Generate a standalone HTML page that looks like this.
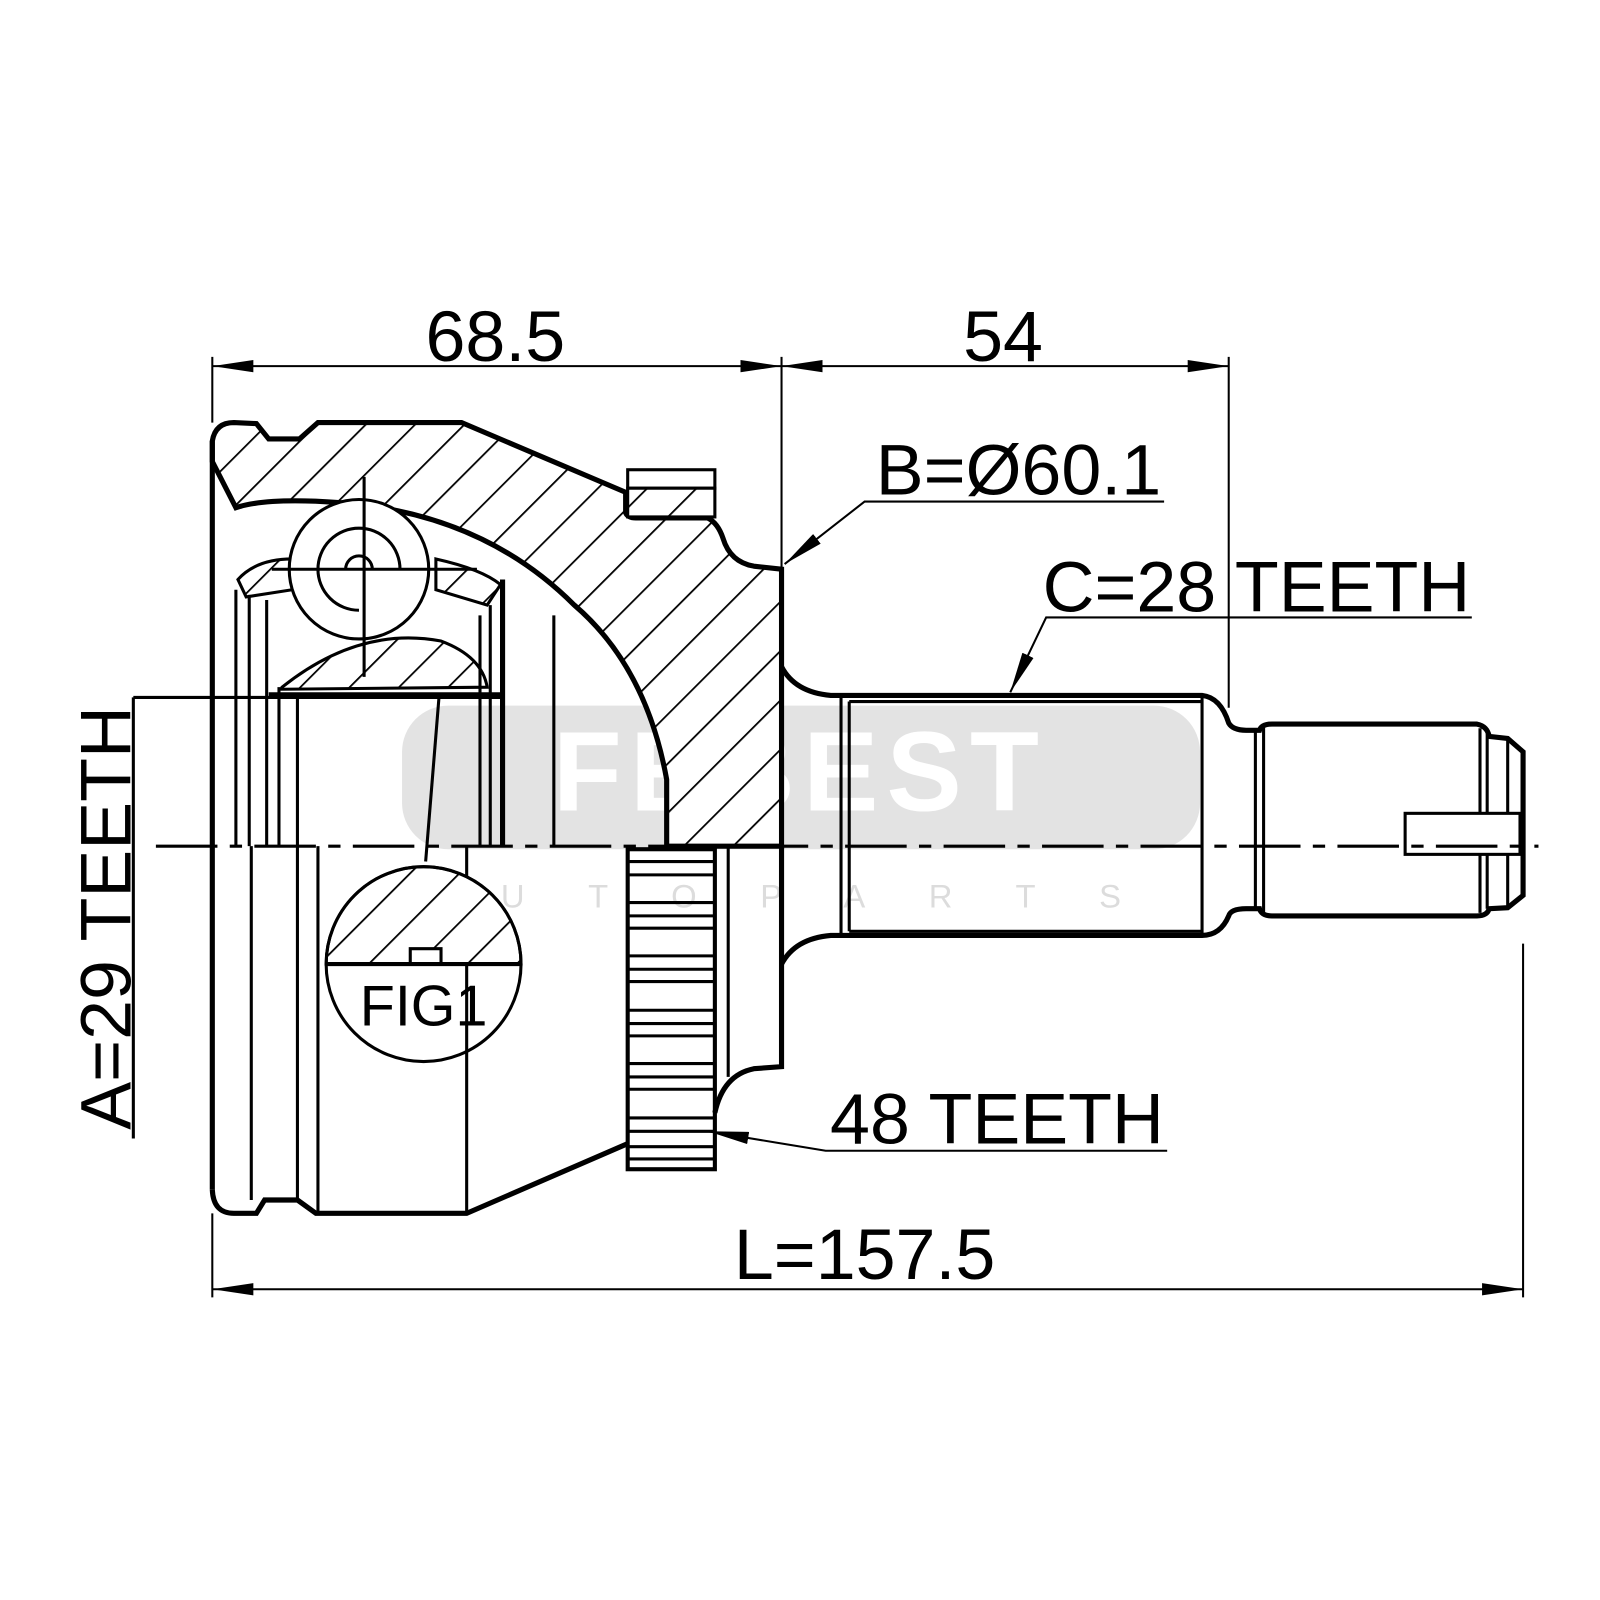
<!DOCTYPE html>
<html><head><meta charset="utf-8"><style>html,body{margin:0;padding:0;background:#fff}svg{display:block}</style></head><body>
<svg width="1600" height="1600" viewBox="0 0 1560 1560" xmlns="http://www.w3.org/2000/svg" font-family="Liberation Sans, sans-serif">
<defs>
<pattern id="h" patternUnits="userSpaceOnUse" width="34" height="34" patternTransform="rotate(45)">
<rect width="34" height="34" fill="#fff"/><line x1="0" y1="0" x2="0" y2="34" stroke="#000" stroke-width="3.5"/>
</pattern>
<marker id="ab" viewBox="0 0 40 12" markerWidth="40" markerHeight="12" refX="40" refY="6" orient="auto-start-reverse" markerUnits="userSpaceOnUse"><path d="M0,0 L40,6 L0,12 Z" fill="#000"/></marker>
</defs>
<rect width="1560" height="1560" fill="#fff"/>
<!-- watermark -->
<rect x="392" y="688" width="778" height="140" rx="45" fill="#e3e3e3"/>
<text x="780" y="790" font-size="110" font-weight="bold" fill="#fff" text-anchor="middle" letter-spacing="8">FEBEST</text>
<text x="780" y="885" font-size="32" fill="#dcdcdc" text-anchor="middle" letter-spacing="62">AUTOPARTS</text>

<g stroke="#000" fill="none" stroke-width="3">
<path d="M207,430 Q210,412 228,412 L250,413 L262,428 L292,428 L310,412 L450,412 L610,480 L610,500 Q612,505 620,505 L690,505 Q700,510 705,525 Q712,548 735,552 L762,555 L762,825 L650,825 L650,760 Q630,650 560,590 Q470,500 330,490 Q260,485 230,495 L207,450 Z" fill="url(#h)" stroke-width="5"/>
<rect x="612" y="458" width="85" height="18" fill="#fff"/>
<rect x="612" y="476" width="85" height="28" fill="url(#h)"/>
<path d="M275,670 Q350,610 430,625 Q470,640 475,670 L275,672 Z" fill="url(#h)"/>
<path d="M232,565 Q250,545 285,545 L285,575 L240,582 Z" fill="url(#h)"/>
<path d="M425,545 Q470,555 488,570 L475,590 L425,575 Z" fill="url(#h)"/>
<circle cx="350" cy="555" r="68" fill="#fff"/>
<path d="M310,555 A40,40 0 1 1 390,555"/>
<path d="M337,555 A13,13 0 1 1 363,555"/>
<path d="M310,555 A40,40 0 0 0 350,595"/>
<line x1="355" y1="465" x2="355" y2="660"/>
<line x1="265" y1="555" x2="465" y2="555"/>
<line x1="230" y1="575" x2="230" y2="825"/><line x1="243" y1="580" x2="243" y2="825"/>
<line x1="260" y1="585" x2="260" y2="825"/><line x1="272" y1="670" x2="272" y2="825"/>
<line x1="290" y1="680" x2="290" y2="825"/>
<line x1="468" y1="600" x2="468" y2="825"/><line x1="478" y1="590" x2="478" y2="825"/>
<line x1="490" y1="565" x2="490" y2="825" stroke-width="5"/>
<line x1="540" y1="600" x2="540" y2="825"/>
<line x1="262" y1="678" x2="490" y2="678" stroke-width="6"/>
<line x1="130" y1="680" x2="490" y2="680"/>
<line x1="130" y1="680" x2="130" y2="1110"/>
<line x1="428" y1="680" x2="415" y2="840"/>
<line x1="207" y1="430" x2="207" y2="1160" stroke-width="5"/>
<path d="M207,1160 Q208,1183 228,1183 L250,1183 L258,1170 L290,1170 L308,1183 L455,1183 L612,1115" stroke-width="5"/>
<line x1="245" y1="825" x2="245" y2="1170"/>
<line x1="290" y1="825" x2="290" y2="1170"/>
<line x1="310" y1="825" x2="310" y2="1183"/>
<line x1="455" y1="825" x2="455" y2="1183"/>
<rect x="612" y="828" width="85" height="312" stroke-width="4"/>
<g stroke-width="3">
<line x1="612" y1="840" x2="697" y2="840"/><line x1="612" y1="853" x2="697" y2="853"/><line x1="612" y1="880" x2="697" y2="880"/><line x1="612" y1="893" x2="697" y2="893"/><line x1="612" y1="905" x2="697" y2="905"/><line x1="612" y1="932" x2="697" y2="932"/><line x1="612" y1="945" x2="697" y2="945"/><line x1="612" y1="957" x2="697" y2="957"/><line x1="612" y1="985" x2="697" y2="985"/><line x1="612" y1="998" x2="697" y2="998"/><line x1="612" y1="1010" x2="697" y2="1010"/><line x1="612" y1="1037" x2="697" y2="1037"/><line x1="612" y1="1050" x2="697" y2="1050"/><line x1="612" y1="1062" x2="697" y2="1062"/><line x1="612" y1="1090" x2="697" y2="1090"/><line x1="612" y1="1103" x2="697" y2="1103"/><line x1="612" y1="1118" x2="697" y2="1118"/><line x1="612" y1="1130" x2="697" y2="1130"/>
</g>
<line x1="710" y1="825" x2="710" y2="1050"/>
<path d="M762,825 L762,1040 L735,1042 Q705,1048 697,1085" stroke-width="5"/>
<path d="M762,650 Q775,675 810,678 L1172,678 Q1190,680 1198,705 Q1202,712 1215,712 L1228,712 Q1230,706 1240,706 L1440,706 Q1450,708 1452,718 L1470,720 L1485,733 L1485,873 L1470,885 L1452,886 Q1450,893 1440,893 L1240,893 Q1230,893 1228,886 L1215,886 Q1200,886 1198,893 Q1190,912 1172,912 L810,912 Q775,915 762,940" stroke-width="5"/>
<line x1="820" y1="680" x2="820" y2="912"/><line x1="828" y1="684" x2="828" y2="908"/>
<line x1="828" y1="684" x2="1172" y2="684"/><line x1="828" y1="908" x2="1172" y2="908"/>
<line x1="1172" y1="680" x2="1172" y2="912"/>
<line x1="1224" y1="712" x2="1224" y2="886"/><line x1="1232" y1="708" x2="1232" y2="890"/>
<line x1="1443" y1="710" x2="1443" y2="890"/><line x1="1450" y1="715" x2="1450" y2="886"/><line x1="1470" y1="720" x2="1470" y2="885"/>
<rect x="1370" y="793" width="112" height="40" fill="#fff"/>
<path d="M318,940 A95,95 0 0 1 508,940 L430,940 L430,925 L400,925 L400,940 Z" fill="url(#h)"/>
<circle cx="413" cy="940" r="95"/>
<line x1="318" y1="940" x2="508" y2="940" stroke-width="4"/>
<line x1="152" y1="825" x2="1500" y2="825" stroke-width="3" stroke-dasharray="60,12,12,12"/>
<line x1="207" y1="348" x2="207" y2="412" stroke-width="2"/>
<line x1="762" y1="348" x2="762" y2="555" stroke-width="2"/>
<line x1="1198" y1="348" x2="1198" y2="690" stroke-width="2"/>
<line x1="207" y1="357" x2="762" y2="357" stroke-width="2" marker-start="url(#ab)" marker-end="url(#ab)"/>
<line x1="762" y1="357" x2="1198" y2="357" stroke-width="2" marker-start="url(#ab)" marker-end="url(#ab)"/>
<line x1="207" y1="1183" x2="207" y2="1265" stroke-width="2"/>
<line x1="1485" y1="920" x2="1485" y2="1265" stroke-width="2"/>
<line x1="207" y1="1257" x2="1485" y2="1257" stroke-width="2" marker-start="url(#ab)" marker-end="url(#ab)"/>
<polyline points="1135,489 843,489 765,550" stroke-width="2" marker-end="url(#ab)"/>
<polyline points="1435,602 1020,602 985,675" stroke-width="2" marker-end="url(#ab)"/>
<polyline points="1138,1122 805,1122 690,1103" stroke-width="2" marker-end="url(#ab)"/>
</g>
<g font-size="70" fill="#000">
<text x="483" y="352" text-anchor="middle">68.5</text>
<text x="978" y="352" text-anchor="middle">54</text>
<text x="993" y="482" text-anchor="middle">B=Ø60.1</text>
<text x="1225" y="596" text-anchor="middle">C=28 TEETH</text>
<text x="972" y="1115" text-anchor="middle">48 TEETH</text>
<text x="843" y="1247" text-anchor="middle">L=157.5</text>
<text transform="translate(127,895) rotate(-90)" text-anchor="middle">A=29 TEETH</text>
<text x="413" y="1000" text-anchor="middle" font-size="56">FIG1</text>
</g>
</svg>
</body></html>
